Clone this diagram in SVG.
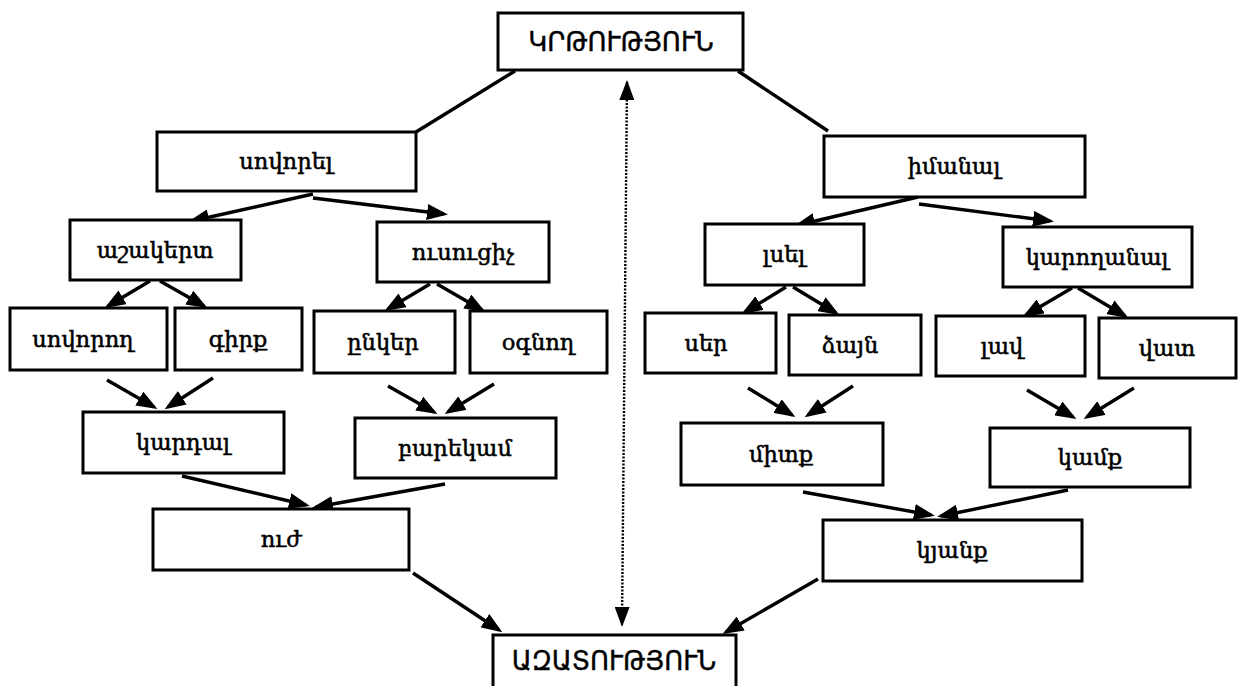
<svg xmlns="http://www.w3.org/2000/svg" width="1238" height="686" viewBox="0 0 1238 686">
<style>
.box{fill:#fff;stroke:#000;stroke-width:3}
.t{font-family:"DejaVu Serif","DejaVu Sans",serif;font-size:22.5px;fill:#000;stroke:#000;stroke-width:0.55;text-anchor:middle}
.T{font-family:"DejaVu Sans","DejaVu Serif",sans-serif;font-size:26px;fill:#000;stroke:#000;stroke-width:0.4;text-anchor:middle}
.c{stroke:#000;stroke-width:3.4;fill:none}
.a{stroke:#000;stroke-width:3.4;fill:none;marker-end:url(#ah)}
.d{stroke:#000;stroke-width:2.4;fill:none;stroke-dasharray:2 1.5;marker-start:url(#dh);marker-end:url(#dh)}
</style>
<defs>
<marker id="ah" viewBox="0 0 21 16" refX="17" refY="8" markerWidth="21" markerHeight="16" markerUnits="userSpaceOnUse" orient="auto"><path d="M0,0 L21,8 L0,16 z" fill="#000"/></marker>
<marker id="dh" viewBox="0 0 20 15" refX="18" refY="7.5" markerWidth="20" markerHeight="15" markerUnits="userSpaceOnUse" orient="auto-start-reverse"><path d="M0,0 L20,7.5 L0,15 z" fill="#000"/></marker>
</defs>
<rect width="1238" height="686" fill="#fff"/>
<g id="connectors">
<line class="c" x1="515" y1="71" x2="416" y2="132"/>
<line class="c" x1="738" y1="71" x2="828" y2="131"/>
<line class="d" x1="627" y1="82" x2="622" y2="625"/>
<line class="a" x1="313" y1="194" x2="192" y2="221"/>
<line class="a" x1="313" y1="198" x2="444" y2="214"/>
<line class="a" x1="918" y1="197" x2="798" y2="225"/>
<line class="a" x1="919" y1="204" x2="1050" y2="221"/>
<line class="a" x1="150" y1="281" x2="108" y2="306"/>
<line class="a" x1="160" y1="281" x2="204" y2="306"/>
<line class="a" x1="430" y1="284" x2="388" y2="309"/>
<line class="a" x1="437" y1="284" x2="482" y2="310"/>
<line class="a" x1="786" y1="287" x2="745" y2="312"/>
<line class="a" x1="793" y1="287" x2="836" y2="313"/>
<line class="a" x1="1072" y1="288" x2="1026" y2="315"/>
<line class="a" x1="1078" y1="288" x2="1125" y2="316"/>
<line class="a" x1="107" y1="380" x2="154" y2="407"/>
<line class="a" x1="213" y1="378" x2="168" y2="407"/>
<line class="a" x1="388" y1="386" x2="434" y2="412"/>
<line class="a" x1="494" y1="384" x2="448" y2="412"/>
<line class="a" x1="748" y1="388" x2="792" y2="415"/>
<line class="a" x1="853" y1="386" x2="808" y2="415"/>
<line class="a" x1="1027" y1="390" x2="1073" y2="417"/>
<line class="a" x1="1134" y1="388" x2="1087" y2="417"/>
<line class="a" x1="182" y1="476" x2="306" y2="505"/>
<line class="a" x1="445" y1="484" x2="316" y2="507"/>
<line class="a" x1="803" y1="492" x2="931" y2="515"/>
<line class="a" x1="1068" y1="490" x2="941" y2="516"/>
<line class="a" x1="413" y1="573" x2="499" y2="630"/>
<line class="a" x1="818" y1="579" x2="726" y2="632"/>
</g>
<g id="n-krtutyun"><rect class="box" x="498" y="13" width="245" height="57"/><text class="T" x="621" y="51">ԿՐԹՈՒԹՅՈՒՆ</text></g>
<g id="n-sovorel"><rect class="box" x="157" y="132" width="259" height="59"/><text class="t" x="286" y="169">սովորել</text></g>
<g id="n-imanal"><rect class="box" x="824" y="136" width="261" height="61"/><text class="t" x="954" y="174">իմանալ</text></g>
<g id="n-ashakert"><rect class="box" x="70" y="220" width="171" height="60"/><text class="t" x="155" y="258">աշակերտ</text></g>
<g id="n-usucich"><rect class="box" x="377" y="222" width="172" height="60"/><text class="t" x="463" y="260">ուսուցիչ</text></g>
<g id="n-lsel"><rect class="box" x="705" y="224" width="159" height="61"/><text class="t" x="784" y="262">լսել</text></g>
<g id="n-karoghanal"><rect class="box" x="1003" y="227" width="189" height="60"/><text class="t" x="1097" y="265">կարողանալ</text></g>
<g id="n-sovorogh"><rect class="box" x="10" y="308" width="157" height="62"/><text class="t" x="83" y="347">սովորող</text></g>
<g id="n-girq"><rect class="box" x="175" y="308" width="127" height="62"/><text class="t" x="238" y="347">գիրք</text></g>
<g id="n-ynker"><rect class="box" x="314" y="311" width="141" height="62"/><text class="t" x="383" y="350">ընկեր</text></g>
<g id="n-ognogh"><rect class="box" x="470" y="311" width="137" height="62"/><text class="t" x="538" y="350">օգնող</text></g>
<g id="n-ser"><rect class="box" x="645" y="313" width="131" height="60"/><text class="t" x="706" y="351">սեր</text></g>
<g id="n-dzayn"><rect class="box" x="789" y="315" width="132" height="60"/><text class="t" x="850" y="353">ձայն</text></g>
<g id="n-lav"><rect class="box" x="936" y="316" width="149" height="60"/><text class="t" x="1002" y="354">լավ</text></g>
<g id="n-vat"><rect class="box" x="1099" y="318" width="137" height="60"/><text class="t" x="1167" y="356">վատ</text></g>
<g id="n-kardal"><rect class="box" x="83" y="412" width="201" height="61"/><text class="t" x="183" y="450">կարդալ</text></g>
<g id="n-barekam"><rect class="box" x="355" y="418" width="201" height="60"/><text class="t" x="455" y="456">բարեկամ</text></g>
<g id="n-mitq"><rect class="box" x="681" y="423" width="202" height="62"/><text class="t" x="781" y="462">միտք</text></g>
<g id="n-kamq"><rect class="box" x="990" y="428" width="200" height="59"/><text class="t" x="1090" y="465">կամք</text></g>
<g id="n-uzh"><rect class="box" x="153" y="509" width="256" height="61"/><text class="t" x="281" y="547">ուժ</text></g>
<g id="n-kyanq"><rect class="box" x="823" y="520" width="259" height="61"/><text class="t" x="952" y="558">կյանք</text></g>
<g id="n-azatutyun"><rect class="box" x="493" y="635" width="243" height="70"/><text class="T" x="614" y="670">ԱԶԱՏՈՒԹՅՈՒՆ</text></g>
</svg>
